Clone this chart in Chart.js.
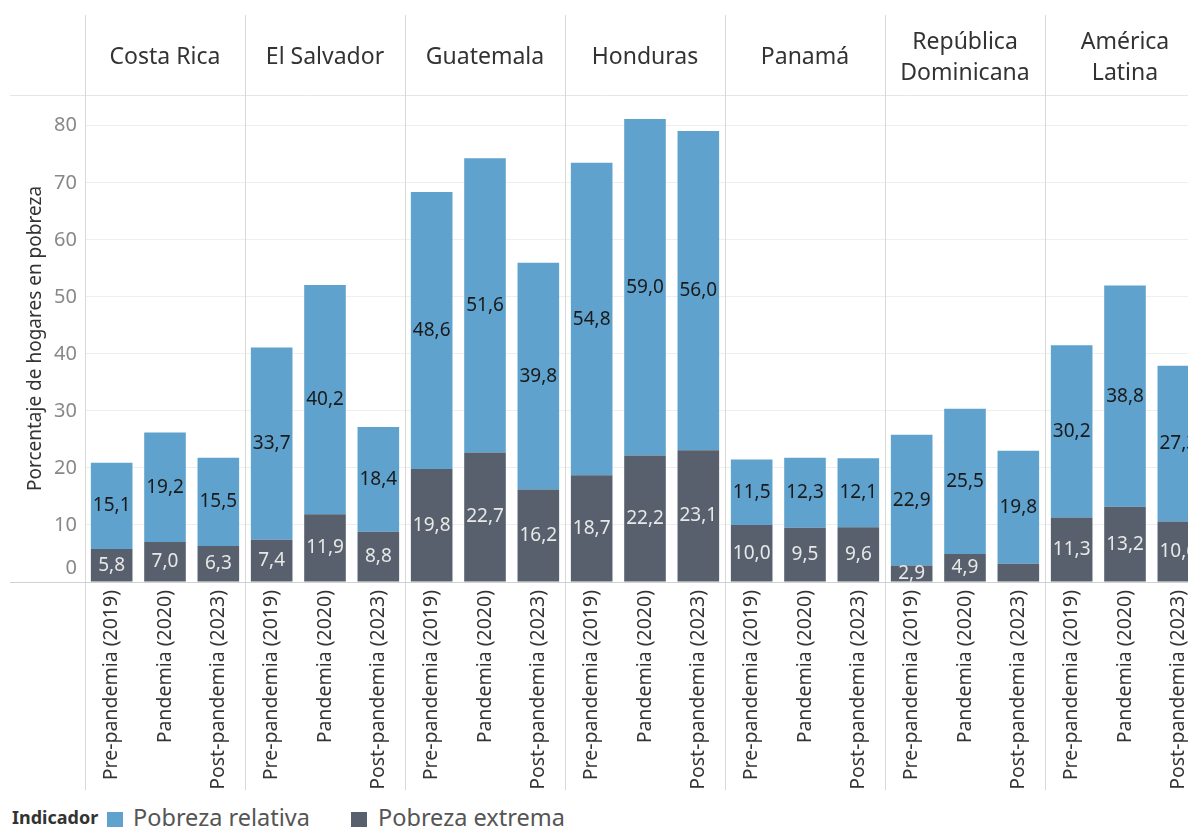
<!DOCTYPE html>
<html>
<head>
<meta charset="utf-8">
<script src="https://cdn.jsdelivr.net/npm/chart.js@4.4.0/dist/chart.umd.min.js"></script>
<style>
  html, body { margin: 0; padding: 0; background: #fff; width: 1188px; height: 829px; overflow: hidden; }
  #wrap { position: absolute; left: 0; top: 0; width: 1205px; height: 795px; }
  #legend { position: absolute; left: 0; top: 800px; width: 1188px; height: 29px; font-family: 'Noto Sans', sans-serif; color: #555; white-space: nowrap; }
  #legend > * { position: absolute; }
  #legend b { left: 12px; top: 5px; font-size: 18px; color: #333; }
  #legend .sw { width: 16px; height: 15px; top: 12px; }
  #legend span { font-size: 23.5px; top: 1px; }
</style>
</head>
<body>
<div id="wrap"><canvas id="povertyChart"></canvas></div>
<div id="legend">
  <b>Indicador</b>
  <i class="sw" style="left:107px;background:#5fa2ce"></i><span style="left:133px">Pobreza relativa</span>
  <i class="sw" style="left:351px;background:#57606c"></i><span style="left:378px">Pobreza extrema</span>
</div>
<script>
const countries = ['Costa Rica', 'El Salvador', 'Guatemala', 'Honduras', 'Panamá', 'República\nDominicana', 'América\nLatina'];
const periods = ['Pre-pandemia (2019)', 'Pandemia (2020)', 'Post-pandemia (2023)'];
const extremeValues = [5.8, 7.0, 6.3, 7.4, 11.9, 8.8, 19.8, 22.7, 16.2, 18.7, 22.2, 23.1, 10.0, 9.5, 9.6, 2.9, 4.9, 3.2, 11.3, 13.2, 10.6];
const relativeValues = [15.1, 19.2, 15.5, 33.7, 40.2, 18.4, 48.6, 51.6, 39.8, 54.8, 59.0, 56.0, 11.5, 12.3, 12.1, 22.9, 25.5, 19.8, 30.2, 38.8, 27.3];
const hiddenExtremeLabels = [17];
const yTicks = [0, 10, 20, 30, 40, 50, 60, 70, 80];

const FONT = "'Noto Sans', sans-serif";
const labels = [];
countries.forEach(() => periods.forEach(p => labels.push(p)));

const panelPlugin = {
  id: 'panels',
  beforeDatasetsDraw(chart) {
    const { ctx, chartArea: a, scales: { x, y } } = chart;
    const catW = x.width / labels.length;
    ctx.save();
    ctx.lineWidth = 1;
    ctx.strokeStyle = '#e6e6e6';
    ctx.beginPath(); ctx.moveTo(10, a.top + 0.5); ctx.lineTo(chart.width, a.top + 0.5); ctx.stroke();
    ctx.strokeStyle = '#d9d9d9';
    for (let k = 0; k <= countries.length; k++) {
      const px = Math.round(a.left + k * 3 * catW) + 0.5;
      ctx.beginPath(); ctx.moveTo(px, 15); ctx.lineTo(px, 790); ctx.stroke();
    }
    ctx.strokeStyle = '#d0d0d0';
    ctx.beginPath(); ctx.moveTo(10, a.bottom + 0.5); ctx.lineTo(chart.width, a.bottom + 0.5); ctx.stroke();
    // y tick labels (the 0 sits above the baseline, as in the original)
    ctx.font = '20px ' + FONT;
    ctx.fillStyle = '#888';
    ctx.textAlign = 'right';
    ctx.textBaseline = 'middle';
    yTicks.forEach(v => {
      const py = y.getPixelForValue(v) - (v === 0 ? 14 : 0);
      ctx.fillText(String(v), a.left - 8, py);
    });
    ctx.restore();
  },
  afterDatasetsDraw(chart) {
    const { ctx, scales: { x } } = chart;
    ctx.save();
    ctx.textAlign = 'center';
    ctx.textBaseline = 'middle';
    ctx.font = '19px ' + FONT;
    chart.data.datasets.forEach((ds, di) => {
      const meta = chart.getDatasetMeta(di);
      meta.data.forEach((bar, i) => {
        if (di === 0 && hiddenExtremeLabels.includes(i)) return;
        const v = ds.data[i];
        ctx.fillStyle = di === 0 ? '#e8e8e8' : '#1a1a1a';
        ctx.fillText(v.toFixed(1).replace('.', ','), bar.x, (bar.y + bar.base) / 2);
      });
    });
    ctx.font = '23px ' + FONT;
    ctx.fillStyle = '#333';
    countries.forEach((c, k) => {
      const cx = x.getPixelForValue(k * 3 + 1);
      const lines = c.split('\n');
      if (lines.length === 1) ctx.fillText(lines[0], cx, 57);
      else { ctx.fillText(lines[0], cx, 42); ctx.fillText(lines[1], cx, 73); }
    });
    ctx.restore();
  }
};

new Chart(document.getElementById('povertyChart'), {
  type: 'bar',
  data: {
    labels: labels,
    datasets: [
      { label: 'Pobreza extrema', data: extremeValues, backgroundColor: '#57606c', barPercentage: 0.78, categoryPercentage: 1 },
      { label: 'Pobreza relativa', data: relativeValues, backgroundColor: '#5fa2ce', barPercentage: 0.78, categoryPercentage: 1 }
    ]
  },
  options: {
    responsive: true,
    maintainAspectRatio: false,
    animation: false,
    layout: { padding: { top: 95, left: 0, right: 0, bottom: 0 } },
    plugins: { legend: { display: false }, tooltip: { enabled: false } },
    scales: {
      x: {
        stacked: true,
        afterFit: s => { s.height = 213; },
        grid: { display: false },
        border: { display: false },
        ticks: { minRotation: 90, maxRotation: 90, autoSkip: false, padding: 0, color: '#333', font: { family: FONT, size: 19.5 } }
      },
      y: {
        stacked: true,
        min: 0,
        max: 85.4,
        afterFit: s => { s.width = 85; },
        afterBuildTicks: s => { s.ticks = yTicks.map(v => ({ value: v })); },
        grid: { color: '#eeeeee', drawTicks: false },
        border: { display: false },
        ticks: { display: false },
        title: { display: true, text: 'Porcentaje de hogares en pobreza', color: '#333', font: { family: FONT, size: 19 }, padding: { top: 24, bottom: 0 } }
      }
    }
  },
  plugins: [panelPlugin]
});
</script>
</body>
</html>
